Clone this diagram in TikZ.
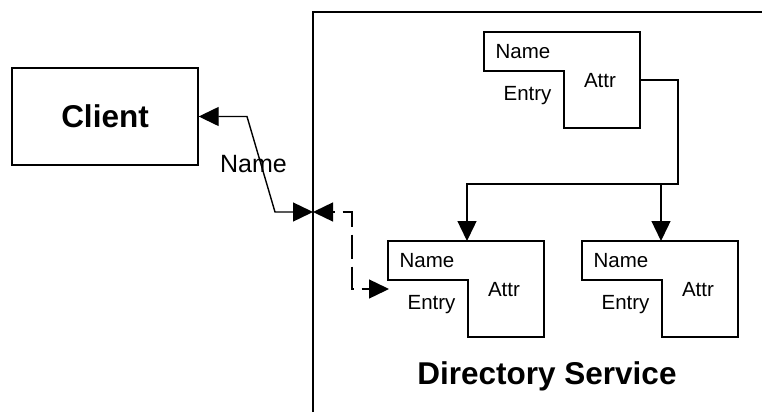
\documentclass[tikz,border=0pt]{standalone}
\usepackage{fontspec}
\setmainfont{Liberation Sans}
\usetikzlibrary{arrows.meta}

\tikzset{
  x=1pt, y=-1pt,
  wire/.style={line width=1.4pt, line join=miter},
  oneway/.style={wire, -{Triangle[length=20pt,width=19pt]}},
  twoway/.style={wire, {Triangle[length=20pt,width=19pt]}-{Triangle[length=20pt,width=19pt]}},
  dashway/.style={twoway, dash pattern=on 24pt off 8pt, dash phase=22pt},
  smalltxt/.style={inner sep=0pt, font=\fontsize{20.5}{24}\selectfont},
  midtxt/.style={inner sep=0pt, font=\fontsize{25}{30}\selectfont},
  bigtxt/.style={inner sep=0pt, font=\fontsize{31.5}{38}\selectfont\bfseries},
  % L-shaped directory entry: Name cell top-left, Attr column on the right
  entrybox/.pic={
    \draw[wire] (0,0) -- (156,0) -- (156,96) -- (80,96) -- (80,39) -- (0,39) -- cycle;
    \node[smalltxt] (-name)  at (39,20)   {Name};
    \node[smalltxt] (-attr)  at (116,49)  {Attr};
    \node[smalltxt] (-entry) at (43.5,64) {Entry};
    \coordinate (-top)   at (79,0);
    \coordinate (-right) at (156,48);
    \coordinate (-in)    at (1,48);
  }
}

\begin{document}
\begin{tikzpicture}
  \useasboundingbox (0,0) rectangle (762,412);

  % client
  \node[wire, draw, minimum width=186pt, minimum height=97pt, inner sep=0pt,
        font=\fontsize{31.5}{38}\selectfont\bfseries] (client) at (105,116.5) {Client};

  % directory service boundary
  \draw[wire] (313,412) -- (313,12) -- (762,12);
  \coordinate (port) at (313,212);
  \node[bigtxt] (ds) at (547,376) {Directory Service};

  % entries
  \pic (e1) at (484,32)  {entrybox};
  \pic (e2) at (388,241) {entrybox};
  \pic (e3) at (582,241) {entrybox};

  % client <-> service port
  \draw[twoway] (client.east) -- (247,116.5) -- (275,212) -- (port);
  \node[midtxt] (nm) at (253.5,164) {Name};

  % port <-> first entry (dashed)
  \draw[dashway] (port) -- (352,212) |- (e2-in);

  % parent entry to its children
  \coordinate (bus) at (678,184);
  \draw[oneway] (e1-right) -| (bus) -| (e2-top);
  \draw[oneway] (e3-top |- bus) -- (e3-top);
\end{tikzpicture}
\end{document}
